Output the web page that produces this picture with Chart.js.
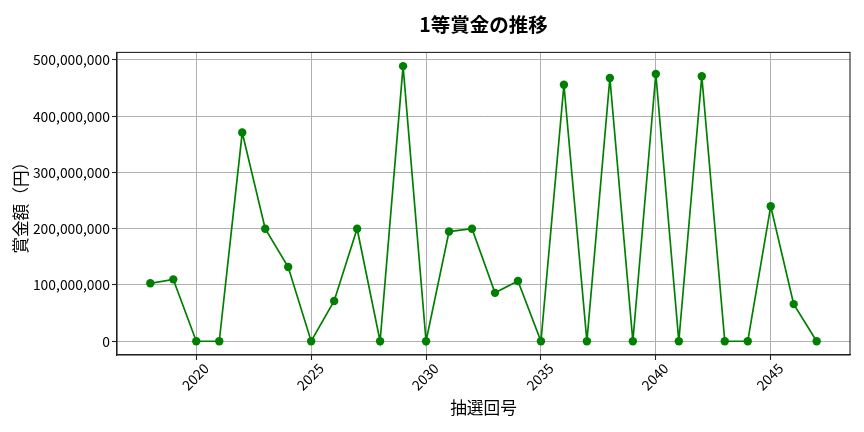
<!DOCTYPE html>
<html>
<head>
<meta charset="utf-8">
<script src="https://cdn.jsdelivr.net/npm/chart.js@4.4.1/dist/chart.umd.min.js"></script>
<style>
html,body{margin:0;padding:0;background:#fff;}
#wrap{width:864px;height:432px;}
</style>
</head>
<body>
<div id="wrap"><canvas id="c" width="864" height="432"></canvas></div>
<script>
const drawNumbers = [2018,2019,2020,2021,2022,2023,2024,2025,2026,2027,2028,2029,2030,2031,2032,2033,2034,2035,2036,2037,2038,2039,2040,2041,2042,2043,2044,2045,2046,2047];
const prizeValues = [103000000,110000000,0,0,371000000,200000000,132000000,0,71500000,200000000,0,489000000,0,195000000,200000000,86000000,107000000,0,456000000,0,468000000,0,475000000,0,471000000,0,0,240000000,66000000,0];
const xTickValues = [2020,2025,2030,2035,2040,2045];
const yTickValues = [0,100000000,200000000,300000000,400000000,500000000];
const titleText = '1等賞金の推移';
const xLabel = '抽選回号';
const yLabel = '賞金額（円）';

const FONT = "'Noto Sans CJK JP', 'Noto Sans', sans-serif";
const points = drawNumbers.map((x, i) => ({x: x, y: prizeValues[i]}));

const xMin = 2018 - 0.05 * (2047 - 2018);
const xMax = 2047 + 0.05 * (2047 - 2018);
const yMaxData = Math.max(...prizeValues);
const yMin = 0 - 0.05 * yMaxData;
const yMax = yMaxData + 0.05 * yMaxData;

const framePlugin = {
  id: 'frame',
  afterDraw(chart) {
    const a = chart.chartArea, ctx = chart.ctx;
    ctx.save();
    ctx.strokeStyle = '#222';
    ctx.lineWidth = 1.1;
    ctx.strokeRect(a.left, a.top, a.right - a.left, a.bottom - a.top);
    ctx.restore();
  }
};

new Chart(document.getElementById('c'), {
  type: 'line',
  data: {
    datasets: [{
      data: points,
      borderColor: '#008000',
      backgroundColor: '#008000',
      borderWidth: 1.7,
      pointRadius: 4.2,
      pointHoverRadius: 4.2,
      pointBackgroundColor: '#008000',
      pointBorderColor: '#008000',
      pointBorderWidth: 0,
      tension: 0,
      fill: false
    }]
  },
  options: {
    responsive: false,
    animation: false,
    devicePixelRatio: 1,
    layout: { padding: { left: 0, right: 14, top: 0, bottom: 0 } },
    plugins: {
      legend: { display: false },
      tooltip: { enabled: false },
      title: {
        display: true,
        text: titleText,
        fullSize: false,
        color: '#000',
        font: { family: FONT, size: 19.5, weight: 'bold', lineHeight: 1.2 },
        padding: { top: 13, bottom: 16 }
      }
    },
    scales: {
      x: {
        type: 'linear',
        min: xMin,
        max: xMax,
        afterBuildTicks(scale) { scale.ticks = xTickValues.map(v => ({value: v})); },
        afterFit(scale) { scale.height = 77; },
        ticks: {
          autoSkip: false,
          minRotation: 45,
          maxRotation: 45,
          padding: 0,
          labelOffset: 10,
          color: '#000',
          font: { family: FONT, size: 13.9 },
          callback: v => String(v)
        },
        grid: { color: '#b0b0b0', lineWidth: 1, tickColor: '#222', tickLength: 5, tickWidth: 1.1 },
        border: { display: true, color: '#222', width: 1.1 },
        title: {
          display: true,
          text: xLabel,
          color: '#000',
          font: { family: FONT, size: 16.7, lineHeight: 1.2 },
          padding: { top: 0, bottom: 14 }
        }
      },
      y: {
        type: 'linear',
        min: yMin,
        max: yMax,
        afterBuildTicks(scale) { scale.ticks = yTickValues.map(v => ({value: v})); },
        afterFit(scale) { scale.width = 117; },
        ticks: {
          padding: 2,
          color: '#000',
          font: { family: FONT, size: 13.9 },
          callback: v => Number(v).toLocaleString('en-US')
        },
        grid: { color: '#b0b0b0', lineWidth: 1, tickColor: '#222', tickLength: 5, tickWidth: 1.1 },
        border: { display: true, color: '#222', width: 1.1 },
        title: {
          display: true,
          text: yLabel,
          color: '#000',
          font: { family: FONT, size: 16.7, lineHeight: 1.2 },
          padding: { top: 11, bottom: 0 }
        }
      }
    }
  },
  plugins: [framePlugin]
});
</script>
</body>
</html>
